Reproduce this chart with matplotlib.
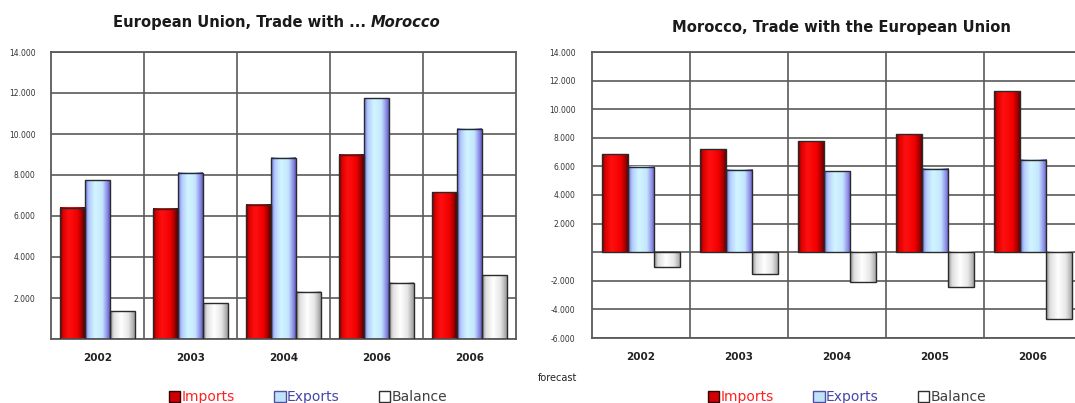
import numpy as np
import matplotlib
matplotlib.use("Agg")
import matplotlib.pyplot as plt
from matplotlib.colors import LinearSegmentedColormap
from matplotlib.patches import Patch
from matplotlib.ticker import FuncFormatter, FixedLocator

# EU side: trade with Morocco (millions)
eu_years = ["2002", "2003", "2004", "2006", "2006"]
eu_imports = [6400, 6350, 6550, 9000, 7150]
eu_exports = [7750, 8100, 8850, 11750, 10250]
eu_balance = [1350, 1750, 2300, 2750, 3100]

# Moroccan side: trade with the EU
ma_years = ["2002", "2003", "2004", "2005", "2006"]
ma_imports = [6850, 7200, 7750, 8250, 11250]
ma_exports = [5950, 5750, 5650, 5850, 6450]
ma_balance = [-1000, -1500, -2100, -2450, -4700]

series_names = ["Imports", "Exports", "Balance"]

W, H = 1075, 403
fig = plt.figure(figsize=(W / 100, H / 100), dpi=100)
fig.patch.set_facecolor("white")

# cylinder-like shading for the bars
cm_red = LinearSegmentedColormap.from_list("red3d", [
    (0, "#5a0000"), (0.1, "#d80000"), (0.35, "#ff1010"),
    (0.7, "#f20000"), (0.88, "#a00000"), (1, "#500000")])
cm_blue = LinearSegmentedColormap.from_list("blue3d", [
    (0, "#7070d8"), (0.15, "#b4ccff"), (0.4, "#d2f6ff"),
    (0.7, "#c4e6ff"), (0.88, "#9494ea"), (1, "#6060c0")])
cm_white = LinearSegmentedColormap.from_list("white3d", [
    (0, "#8c8c8c"), (0.15, "#e0e0e0"), (0.45, "#ffffff"),
    (0.75, "#e6e6e6"), (1, "#9c9c9c")])
cmaps = [cm_red, cm_blue, cm_white]

legend_face = ["#d00000", "#bfe4fa", "#ffffff"]
legend_edge = ["#300000", "#5050a0", "#303030"]
legend_text = ["#ff2020", "#4646a8", "#404040"]

grid_c = "#5a5a5a"
grad = np.linspace(0, 1, 64)[np.newaxis, :]


def fmt(v, pos):
    if abs(v) < 1e-6:
        return ""
    return f"{v:,.0f}".replace(",", ".")


def px(x0, y0, x1, y1):
    return [x0 / W, 1 - y1 / H, (x1 - x0) / W, (y1 - y0) / H]


def trade_panel(rect, years, values, ylim, label_pad):
    ax = fig.add_axes(rect)
    x = np.arange(len(years))
    w = 0.267
    for i, (vals, cm) in enumerate(zip(values, cmaps)):
        bars = ax.bar(x + (i - 1) * w, vals, w, facecolor="none",
                      edgecolor="#2a2a2a", linewidth=1.0, zorder=3)
        for r in bars:
            y0 = min(r.get_y(), r.get_y() + r.get_height())
            y1 = max(r.get_y(), r.get_y() + r.get_height())
            ax.imshow(grad, extent=(r.get_x(), r.get_x() + r.get_width(), y0, y1),
                      cmap=cm, aspect="auto", interpolation="bicubic", zorder=2)
    ax.set_xlim(-0.5, len(years) - 0.5)
    ax.set_ylim(*ylim)
    ax.xaxis.set_major_locator(FixedLocator(x[:-1] + 0.5))
    ax.xaxis.set_minor_locator(FixedLocator(x))
    ax.set_xticklabels([], minor=False)
    ax.set_xticklabels(years, minor=True, fontsize=7.5, fontweight="bold", color="#222222")
    ax.set_yticks(np.arange(ylim[0], ylim[1] + 1, 2000))
    ax.yaxis.set_major_formatter(FuncFormatter(fmt))
    ax.tick_params(axis="y", length=0, pad=label_pad, labelsize=5.5, labelcolor="#333333")
    ax.tick_params(axis="x", which="both", length=0, pad=10)
    ax.grid(True, color=grid_c, linewidth=1.2)
    ax.set_axisbelow(True)
    for s in ax.spines.values():
        s.set_color(grid_c)
        s.set_linewidth(1.3)
    return ax


ax1 = trade_panel(px(51, 52, 516, 339), eu_years,
                  [eu_imports, eu_exports, eu_balance], (0, 14000), 11)
ax2 = trade_panel(px(592, 52, 1082, 338), ma_years,
                  [ma_imports, ma_exports, ma_balance], (-6000, 14000), 12)

# titles; the country name in the left one is set in italics
title_kw = dict(fontsize=10.6, fontweight="bold", color="#1a1a1a", va="baseline")
t1 = fig.text(113 / W, 1 - 27 / H, "European Union, Trade with ... ", ha="left", **title_kw)
bb = t1.get_window_extent(fig.canvas.get_renderer())
fig.text(bb.x1 / W, 1 - 27 / H, "Morocco", ha="left", fontstyle="italic", **title_kw)
fig.text(841 / W, 1 - 32 / H, "Morocco, Trade with the European Union", ha="center",
         **title_kw)

fig.text(558 / W, 1 - 378 / H, "forecast", fontsize=7, color="#222222",
         ha="center", va="center")

# legends
handles = [Patch(facecolor=f, edgecolor=e, linewidth=1.0)
           for f, e in zip(legend_face, legend_edge)]
for cx in (308, 847):
    fig.legend(handles, series_names, loc="center", ncol=3, frameon=False,
               bbox_to_anchor=(cx / W, 1 - 397 / H), fontsize=10,
               labelcolor=legend_text, handlelength=0.85, handleheight=0.85,
               handletextpad=0.1, columnspacing=2.8, borderpad=0)

fig.savefig("out.png", dpi=100, facecolor="white")
